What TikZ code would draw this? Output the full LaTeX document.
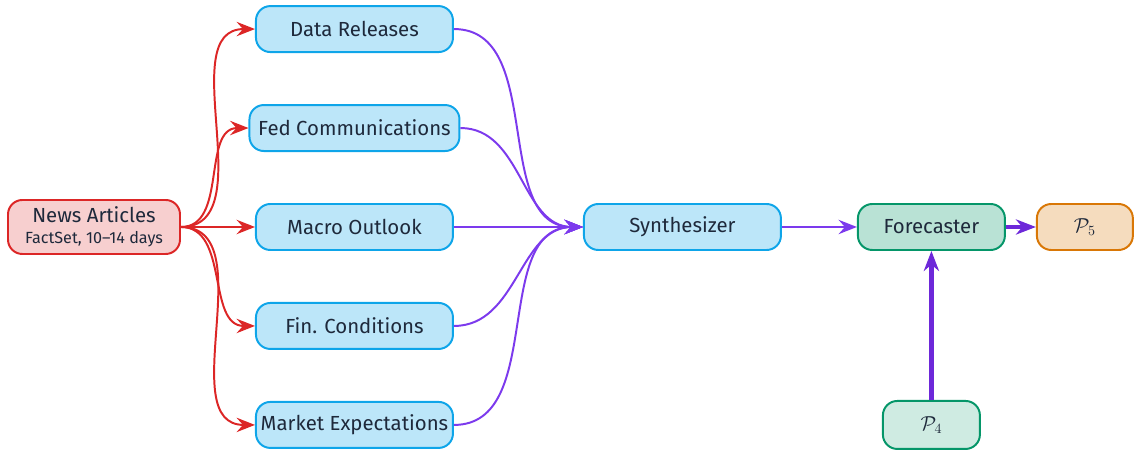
\documentclass[tikz,border=0pt]{standalone}
\usepackage{fontspec}
\setmainfont{Fira Sans}
\usetikzlibrary{arrows.meta, positioning}

\definecolor{skyline}{HTML}{0EA5E9}
\definecolor{redline}{HTML}{DC2626}
\definecolor{greenline}{HTML}{059669}
\definecolor{amberline}{HTML}{D97706}
\definecolor{violetthin}{HTML}{7C3AED}
\definecolor{violetthick}{HTML}{6D28D9}
\definecolor{inktext}{HTML}{1E293B}

\begin{document}
\begin{tikzpicture}[
    node distance=1.275cm and 1.85cm,
    box/.style={rectangle, rounded corners=0.36cm, line width=1.4pt, minimum height=1.15cm, text centered, text=inktext, font=\fontsize{14.5}{17}\selectfont, align=center},
    source/.style={box, draw=redline, fill=redline!22, minimum width=4.3cm, minimum height=1.35cm},
    agent/.style={box, draw=skyline, fill=skyline!28, minimum width=4.925cm},
    model/.style={box, draw=greenline, fill=greenline!28, minimum width=3.675cm},
    prior/.style={box, draw=greenline, fill=greenline!19, minimum width=2.425cm, minimum height=1.2cm},
    output/.style={box, draw=amberline, fill=amberline!26, minimum width=2.4cm},
    feed/.style={-{Stealth[length=0.46cm, width=0.36cm, inset=0.16cm]}, line width=1.4pt, draw=redline},
    merge/.style={-{Stealth[length=0.46cm, width=0.36cm, inset=0.16cm]}, line width=1.4pt, draw=violetthin},
    strong/.style={-{Stealth[length=0.5cm, width=0.38cm, inset=0.16cm]}, line width=3pt, draw=violetthick}
]

\useasboundingbox (-2.35,-5.625) rectangle (26.025,5.675);

% === SOURCE ===
\node (news) [source] {News Articles\\[-2pt]{\fontsize{11.5}{14}\selectfont FactSet, 10--14 days}};

% === ANALYSTS ===
\node (macro) [agent, right=of news] {Macro Outlook};
\node (fed) [agent, above=of macro, minimum width=5.25cm] {Fed Communications};
\node (data) [agent, above=of fed] {Data Releases};
\node (fin) [agent, below=of macro] {Fin. Conditions};
\node (market) [agent, below=of fin] {Market Expectations};

% === SYNTHESIS AND FORECAST ===
\node (synth) [agent, right=3.225cm of macro] {Synthesizer};
\node (forecaster) [model, right=1.875cm of synth] {Forecaster};
\node (pfive) [output, right=0.75cm of forecaster] {$\mathcal{P}_5$};
\node (pfour) [prior, below=3.725cm of forecaster] {$\mathcal{P}_4$};

% === ARROWS - fan out ===
\draw [feed] (news.east) to[out=0, in=180] (data.west);
\draw [feed] (news.east) to[out=0, in=180] (fed.west);
\draw [feed] (news.east) -- (macro.west);
\draw [feed] (news.east) to[out=0, in=180] (fin.west);
\draw [feed] (news.east) to[out=0, in=180] (market.west);

% Fan in
\draw [merge] (data.east) to[out=0, in=180] (synth.west);
\draw [merge] (fed.east) to[out=0, in=180] (synth.west);
\draw [merge] (macro.east) -- (synth.west);
\draw [merge] (fin.east) to[out=0, in=180] (synth.west);
\draw [merge] (market.east) to[out=0, in=180] (synth.west);

\draw [merge] (synth) -- (forecaster);
\draw [strong] (forecaster) -- (pfive);
\draw [strong] (pfour) -- (forecaster);

\end{tikzpicture}
\end{document}
